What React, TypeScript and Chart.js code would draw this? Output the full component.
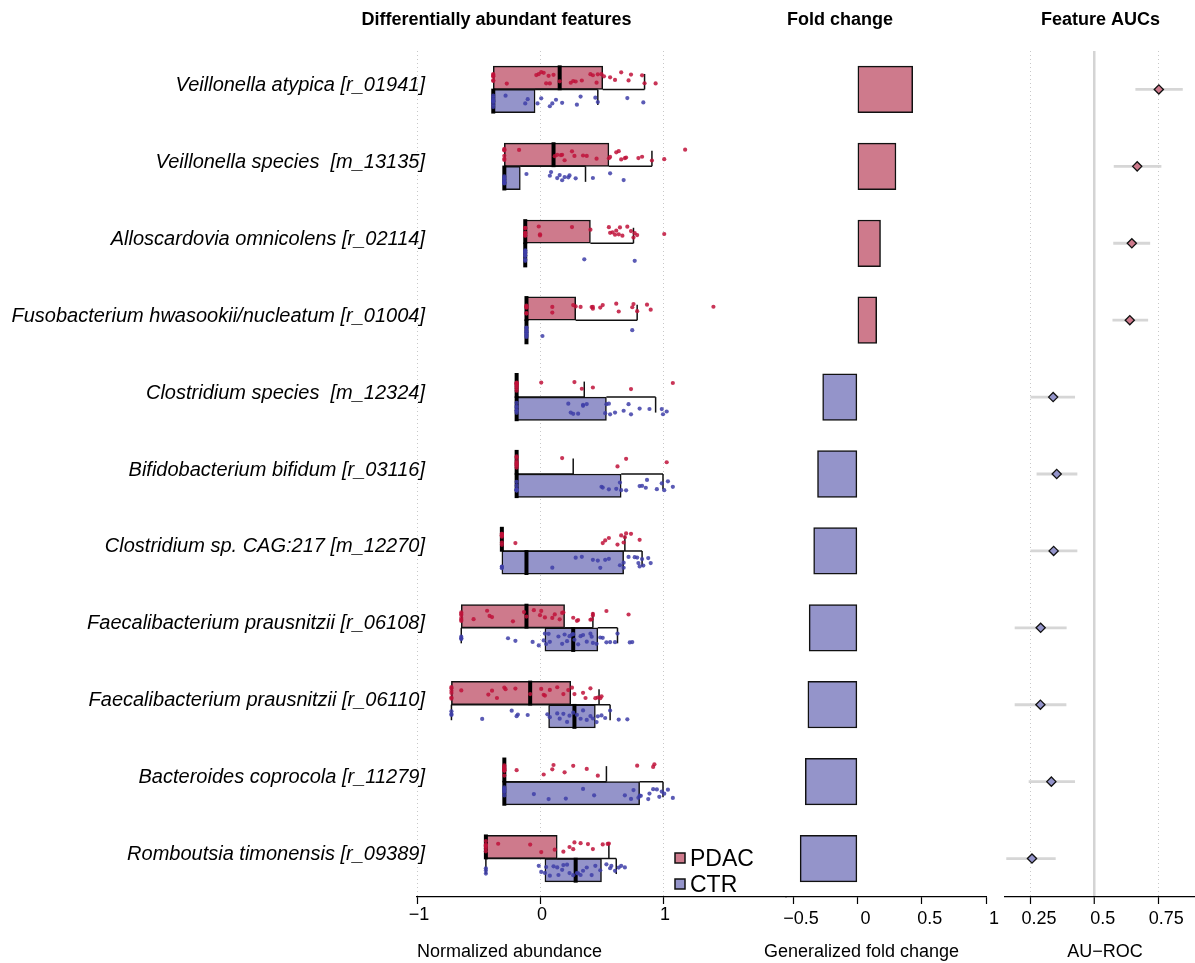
import React, { useEffect, useRef } from 'react';
import { Chart, registerables } from 'chart.js';

Chart.register(...registerables);

// ---------------- data ----------------
const features = [
  'Veillonella atypica [r_01941]',
  'Veillonella species  [m_13135]',
  'Alloscardovia omnicolens [r_02114]',
  'Fusobacterium hwasookii/nucleatum [r_01004]',
  'Clostridium species  [m_12324]',
  'Bifidobacterium bifidum [r_03116]',
  'Clostridium sp. CAG:217 [m_12270]',
  'Faecalibacterium prausnitzii [r_06108]',
  'Faecalibacterium prausnitzii [r_06110]',
  'Bacteroides coprocola [r_11279]',
  'Romboutsia timonensis [r_09389]',
];

const groupNames = ['PDAC', 'CTR'];

const pdacLow = [-0.38, -0.29, -0.12, -0.11, -0.19, -0.19, -0.31, -0.64, -0.72, -0.29, -0.44];
const pdacQ1 = [-0.38, -0.29, -0.12, -0.11, -0.19, -0.19, -0.31, -0.64, -0.72, -0.29, -0.44];
const pdacMed = [0.16, 0.11, -0.12, -0.11, -0.19, -0.19, -0.31, -0.11, -0.08, -0.29, -0.44];
const pdacQ3 = [0.51, 0.56, 0.41, 0.29, -0.19, -0.19, -0.31, 0.2, 0.25, -0.29, 0.14];
const pdacHigh = [0.85, 0.91, 0.76, 0.79, 0.36, 0.27, 0.69, 0.43, 0.48, 0.54, 0.56];

const ctrLow = [-0.38, -0.29, -0.12, -0.11, -0.19, -0.19, -0.31, -0.64, -0.72, -0.29, -0.44];
const ctrQ1 = [-0.38, -0.29, -0.12, -0.11, -0.19, -0.19, -0.31, 0.04, 0.07, -0.29, 0.04];
const ctrMed = [-0.38, -0.29, -0.12, -0.11, -0.19, -0.19, -0.11, 0.27, 0.28, -0.29, 0.29];
const ctrQ3 = [-0.04, -0.16, -0.12, -0.11, 0.54, 0.66, 0.68, 0.47, 0.45, 0.81, 0.5];
const ctrHigh = [0.47, 0.37, -0.12, -0.11, 0.94, 1.0, 0.83, 0.63, 0.57, 1.0, 0.62];

const pdacPoints: number[][] = [
  [-0.38, -0.38, -0.38, -0.38, -0.38, -0.38, -0.27, -0.03, -0.01, 0.01, 0.03, 0.05, 0.07, 0.08, 0.11, 0.16, 0.25, 0.27, 0.29, 0.34, 0.41, 0.43, 0.46, 0.47, 0.5, 0.52, 0.57, 0.61, 0.66, 0.72, 0.74, 0.83, 0.85, 0.94],
  [-0.29, -0.29, -0.29, -0.29, -0.29, -0.29, -0.17, 0.12, 0.14, 0.17, 0.18, 0.2, 0.26, 0.28, 0.35, 0.38, 0.46, 0.56, 0.57, 0.62, 0.64, 0.66, 0.69, 0.7, 0.8, 0.83, 0.91, 1.01, 1.18],
  [-0.12, -0.12, -0.12, -0.12, -0.12, -0.12, -0.01, 0.0, 0.0, 0.26, 0.41, 0.56, 0.57, 0.59, 0.61, 0.62, 0.64, 0.65, 0.67, 0.71, 0.74, 0.76, 0.77, 0.79, 1.01],
  [-0.11, -0.11, -0.11, -0.11, -0.11, -0.11, 0.1, 0.1, 0.27, 0.29, 0.33, 0.42, 0.43, 0.43, 0.49, 0.51, 0.62, 0.64, 0.75, 0.76, 0.79, 0.87, 0.9, 1.41],
  [-0.19, -0.19, -0.19, -0.19, -0.19, -0.19, -0.19, -0.19, 0.01, 0.28, 0.34, 0.43, 0.74, 1.08],
  [-0.19, -0.19, -0.19, -0.19, -0.19, -0.19, -0.19, -0.19, 0.18, 0.63, 0.7, 1.03],
  [-0.31, -0.31, -0.31, -0.31, -0.31, -0.31, -0.31, -0.31, -0.2, 0.51, 0.53, 0.56, 0.63, 0.66, 0.68, 0.69, 0.7, 0.74, 0.81],
  [-0.64, -0.64, -0.64, -0.64, -0.64, -0.64, -0.54, -0.43, -0.41, -0.39, -0.22, -0.13, -0.11, -0.05, 0.0, 0.01, 0.04, 0.1, 0.12, 0.16, 0.18, 0.19, 0.27, 0.3, 0.31, 0.41, 0.42, 0.43, 0.43, 0.54, 0.72],
  [-0.72, -0.72, -0.72, -0.72, -0.72, -0.72, -0.64, -0.42, -0.39, -0.35, -0.29, -0.28, -0.2, -0.08, 0.01, 0.03, 0.04, 0.08, 0.14, 0.19, 0.23, 0.26, 0.28, 0.35, 0.37, 0.41, 0.45, 0.47, 0.49, 0.5],
  [-0.29, -0.29, -0.29, -0.29, -0.29, -0.29, -0.29, -0.29, -0.19, 0.03, 0.1, 0.11, 0.2, 0.27, 0.38, 0.47, 0.79, 0.92, 0.93],
  [-0.44, -0.44, -0.44, -0.44, -0.44, -0.44, -0.34, -0.08, 0.01, 0.12, 0.19, 0.24, 0.27, 0.28, 0.33, 0.39, 0.43, 0.51, 0.55, 0.56],
];

const ctrPoints: number[][] = [
  [-0.38, -0.38, -0.38, -0.38, -0.38, -0.38, -0.38, -0.38, -0.28, -0.12, -0.1, -0.02, 0.01, 0.08, 0.1, 0.13, 0.18, 0.3, 0.33, 0.45, 0.47, 0.71, 0.84],
  [-0.29, -0.29, -0.29, -0.29, -0.29, -0.29, -0.29, -0.29, -0.11, 0.08, 0.09, 0.14, 0.16, 0.18, 0.2, 0.23, 0.24, 0.29, 0.43, 0.57, 0.68],
  [-0.12, -0.12, -0.12, -0.12, -0.12, -0.12, -0.12, -0.12, 0.36, 0.77],
  [-0.11, -0.11, -0.11, -0.11, -0.11, -0.11, -0.11, -0.11, 0.02, 0.75],
  [-0.19, -0.19, -0.19, -0.19, -0.19, -0.19, 0.23, 0.25, 0.27, 0.31, 0.35, 0.35, 0.38, 0.53, 0.54, 0.56, 0.57, 0.61, 0.68, 0.72, 0.74, 0.81, 0.89, 0.99, 1.0, 1.03],
  [-0.19, -0.19, -0.19, -0.19, -0.19, -0.19, 0.5, 0.51, 0.56, 0.62, 0.65, 0.66, 0.7, 0.81, 0.83, 0.86, 0.87, 0.95, 0.99, 1.01, 1.04, 1.08],
  [-0.31, -0.31, -0.31, 0.1, 0.29, 0.34, 0.43, 0.47, 0.49, 0.53, 0.56, 0.65, 0.68, 0.68, 0.72, 0.77, 0.79, 0.8, 0.81, 0.83, 0.84, 0.88, 0.9],
  [-0.64, -0.64, -0.64, -0.26, -0.2, -0.06, -0.01, 0.03, 0.04, 0.05, 0.07, 0.08, 0.15, 0.18, 0.2, 0.22, 0.24, 0.26, 0.27, 0.28, 0.31, 0.33, 0.35, 0.38, 0.41, 0.42, 0.43, 0.46, 0.49, 0.51, 0.54, 0.57, 0.61, 0.63, 0.73, 0.75],
  [-0.72, -0.72, -0.72, -0.47, -0.23, -0.19, -0.18, -0.1, 0.06, 0.08, 0.14, 0.16, 0.19, 0.22, 0.24, 0.27, 0.3, 0.33, 0.35, 0.38, 0.41, 0.43, 0.46, 0.47, 0.5, 0.53, 0.57, 0.64, 0.71],
  [-0.29, -0.29, -0.29, -0.29, -0.29, -0.29, -0.05, 0.07, 0.21, 0.35, 0.44, 0.69, 0.74, 0.76, 0.8, 0.81, 0.82, 0.88, 0.89, 0.92, 0.95, 0.97, 0.99, 1.01, 1.04, 1.08],
  [-0.44, -0.44, -0.44, -0.01, 0.01, 0.04, 0.05, 0.08, 0.11, 0.14, 0.15, 0.18, 0.19, 0.22, 0.24, 0.27, 0.3, 0.31, 0.33, 0.35, 0.38, 0.42, 0.45, 0.49, 0.54, 0.57, 0.58, 0.61, 0.64, 0.66, 0.69],
];

const foldChange = [0.43, 0.3, 0.18, 0.15, -0.27, -0.31, -0.34, -0.375, -0.385, -0.405, -0.445];

const aucValue = [0.752, 0.667, 0.646, 0.638, 0.337, 0.351, 0.339, 0.288, 0.287, 0.33, 0.254];
const aucLow = [0.66, 0.575, 0.573, 0.57, 0.248, 0.272, 0.248, 0.186, 0.186, 0.241, 0.153];
const aucHigh = [0.846, 0.762, 0.718, 0.71, 0.423, 0.432, 0.432, 0.39, 0.389, 0.423, 0.347];

const abundanceTicks = [-1, 0, 1];
const foldTicks = [-0.5, 0, 0.5, 1];
const aucTicks = [0.25, 0.5, 0.75];
const aucReference = 0.5;

const panelTitles = ['Differentially abundant features', 'Fold change', 'Feature AUCs'];
const axisTitles = ['Normalized abundance', 'Generalized fold change', 'AU\u2212ROC'];

// ---------------- layout / style ----------------
const W = 1195;
const H = 963;
const TOP = 51;
const AXIS_H = 66;
const ROW_PX = (H - AXIS_H - TOP) / features.length;
const HALF_BOX_PX = 23.3;
const HALF = HALF_BOX_PX / 2 / ROW_PX;
const TICK_PX = 7.75;
const TICK_OFF = TICK_PX / ROW_PX;
const JIT = 6 / ROW_PX;

const FONT = '"Liberation Sans", Arial, Helvetica, sans-serif';
const RED_FILL = '#CE7A8C';
const BLUE_FILL = '#9494CA';
const RED_PT = 'rgba(192,18,58,0.85)';
const BLUE_PT = 'rgba(62,62,168,0.85)';
const EDGE = '#111111';

Chart.defaults.font.family = FONT;

const fmt = (v: number) => (v < 0 ? '\u2212' + String(Math.abs(v)) : String(v));

function jitter(k: number) {
  const s = Math.sin(k * 12.9898 + 78.233) * 43758.5453;
  return s - Math.floor(s) - 0.5;
}

function xScale(min: number, max: number, tickValues: number[], grid: any, dash: any, labelOffset: number, padding: number) {
  return {
    type: 'linear',
    min,
    max,
    offset: false,
    afterBuildTicks: (s: any) => {
      s.ticks = tickValues.map((v) => ({ value: v }));
    },
    afterFit: (s: any) => {
      s.height = AXIS_H;
    },
    grid: {
      display: true,
      offset: false,
      drawTicks: true,
      tickLength: 7,
      tickColor: '#000',
      tickWidth: 1.2,
      tickBorderDash: [],
      ...grid,
    },
    border: { display: true, color: '#000', width: 1.2, dash },
    ticks: {
      color: '#000',
      font: { family: FONT, size: 18 },
      padding,
      labelOffset,
      maxRotation: 0,
      autoSkip: false,
      callback: (v: any) => fmt(Number(v)),
    },
  };
}

const yScale = {
  type: 'linear',
  min: 0.5,
  max: features.length + 0.5,
  reverse: true,
  display: false,
  offset: false,
  grid: { offset: false },
};

function baseOptions(left: number, right: number, x: any) {
  return {
    responsive: false,
    animation: false,
    devicePixelRatio: 1,
    events: [],
    layout: { autoPadding: false, padding: { left, right: W - right, top: TOP, bottom: 0 } },
    plugins: { legend: { display: false }, tooltip: { enabled: false }, title: { display: false } },
    scales: { x, y: yScale },
  };
}

function segments(list: [number, number, number][]) {
  const out: any[] = [];
  list.forEach(([a, b, y]) => {
    out.push({ x: a, y }, { x: b, y }, { x: b, y: null });
  });
  return out;
}

function textPlugin(id: string, draw: (chart: any, ctx: CanvasRenderingContext2D) => void) {
  return {
    id,
    afterDraw(chart: any) {
      const ctx = chart.ctx;
      ctx.save();
      draw(chart, ctx);
      ctx.restore();
    },
  };
}

function drawTitle(ctx: CanvasRenderingContext2D, text: string, cx: number) {
  ctx.fillStyle = '#000';
  ctx.font = `bold 18px ${FONT}`;
  ctx.textAlign = 'center';
  ctx.textBaseline = 'alphabetic';
  ctx.fillText(text, cx, 25);
}

function drawAxisTitle(ctx: CanvasRenderingContext2D, text: string, x: number, align: CanvasTextAlign) {
  ctx.fillStyle = '#000';
  ctx.font = `18px ${FONT}`;
  ctx.textAlign = align;
  ctx.textBaseline = 'alphabetic';
  ctx.fillText(text, x, 957);
}

// ---------------- chart builders ----------------
function buildAbundance(canvas: HTMLCanvasElement) {
  const groups = [
    { name: groupNames[0], sign: -1, low: pdacLow, q1: pdacQ1, med: pdacMed, q3: pdacQ3, high: pdacHigh, pts: pdacPoints, fill: RED_FILL, pt: RED_PT },
    { name: groupNames[1], sign: 1, low: ctrLow, q1: ctrQ1, med: ctrMed, q3: ctrQ3, high: ctrHigh, pts: ctrPoints, fill: BLUE_FILL, pt: BLUE_PT },
  ];

  const datasets: any[] = [];

  groups.forEach((g) => {
    datasets.push({
      type: 'bar',
      indexAxis: 'y',
      label: g.name,
      data: features.map((_, i) => ({ x: g.q3[i] > g.q1[i] ? [g.q1[i], g.q3[i]] : null, y: i + 1 })),
      backgroundColor: g.fill,
      borderColor: EDGE,
      borderWidth: 1.5,
      borderSkipped: false,
      barThickness: HALF_BOX_PX,
      grouped: true,
      order: 6,
    });
  });

  const whiskerSegs: [number, number, number][] = [];
  const whiskerTicks: any[] = [];
  const medians: any[] = [];
  groups.forEach((g) => {
    features.forEach((_, i) => {
      const r = i + 1;
      if (g.high[i] > g.q3[i]) {
        whiskerSegs.push([g.q3[i], g.high[i], r]);
        whiskerTicks.push({ x: g.high[i], y: r + g.sign * TICK_OFF });
      }
      if (g.low[i] < g.q1[i]) {
        whiskerSegs.push([g.low[i], g.q1[i], r]);
        whiskerTicks.push({ x: g.low[i], y: r + g.sign * TICK_OFF });
      }
      medians.push({ x: g.med[i], y: r + g.sign * HALF });
    });
  });

  datasets.push({
    type: 'line',
    data: segments(whiskerSegs),
    borderColor: EDGE,
    borderWidth: 1.5,
    pointRadius: 0,
    fill: false,
    tension: 0,
    spanGaps: false,
    order: 5,
  });
  datasets.push({
    type: 'scatter',
    data: whiskerTicks,
    pointStyle: 'line',
    rotation: 90,
    pointRadius: TICK_PX,
    borderColor: EDGE,
    borderWidth: 1.5,
    order: 4,
  });
  datasets.push({
    type: 'scatter',
    data: medians,
    pointStyle: 'line',
    rotation: 90,
    pointRadius: HALF_BOX_PX / 2 + 0.8,
    borderColor: '#000',
    borderWidth: 4,
    order: 3,
  });
  groups.forEach((g, gi) => {
    datasets.push({
      type: 'scatter',
      data: g.pts.flatMap((arr, i) =>
        arr.map((v, k) => ({ x: v, y: i + 1 + g.sign * HALF + jitter(i * 97 + k * 13 + gi * 5003) * 2 * JIT }))
      ),
      pointRadius: 2.1,
      backgroundColor: g.pt,
      borderWidth: 0,
      order: 1 + gi,
    });
  });

  const x = xScale(
    -1,
    2,
    abundanceTicks,
    { drawOnChartArea: true, color: 'rgb(200,200,200)', lineWidth: 1 },
    [1, 3],
    2,
    0
  );

  const plugin = textPlugin('abundText', (chart, ctx) => {
    const ys = chart.scales.y;
    const area = chart.chartArea;
    ctx.fillStyle = '#000';
    ctx.font = `italic 20px ${FONT}`;
    ctx.textAlign = 'right';
    ctx.textBaseline = 'middle';
    features.forEach((f, i) => {
      ctx.fillText(f, area.left + 8, ys.getPixelForValue(i + 1) - 4);
    });
    drawTitle(ctx, panelTitles[0], 496.5);
    drawAxisTitle(ctx, axisTitles[0], area.left, 'left');
    // legend
    const lx = 675;
    const ly = [853, 879];
    groups.forEach((g, gi) => {
      ctx.fillStyle = g.fill;
      ctx.fillRect(lx, ly[gi], 10, 10);
      ctx.strokeStyle = EDGE;
      ctx.lineWidth = 1.5;
      ctx.strokeRect(lx, ly[gi], 10, 10);
      ctx.fillStyle = '#000';
      ctx.font = `23px ${FONT}`;
      ctx.textAlign = 'left';
      ctx.textBaseline = 'alphabetic';
      ctx.fillText(g.name, lx + 15, ly[gi] + 12.5);
    });
  });

  return new Chart(canvas, {
    type: 'scatter',
    data: { datasets },
    options: baseOptions(417, 786, x) as any,
    plugins: [plugin],
  } as any);
}

function buildFold(canvas: HTMLCanvasElement) {
  const x = xScale(-0.555, 1.0, foldTicks, { drawOnChartArea: false, color: '#000' }, [], 8, 4);
  const plugin = textPlugin('foldText', (chart, ctx) => {
    drawTitle(ctx, panelTitles[1], 840);
    drawAxisTitle(ctx, axisTitles[1], 861.5, 'center');
  });
  return new Chart(canvas, {
    type: 'scatter',
    data: {
      datasets: [
        {
          type: 'bar',
          indexAxis: 'y',
          data: foldChange.map((v, i) => ({ x: v, y: i + 1 })),
          backgroundColor: foldChange.map((v) => (v > 0 ? RED_FILL : BLUE_FILL)),
          borderColor: EDGE,
          borderWidth: 1.5,
          borderSkipped: false,
          barThickness: HALF_BOX_PX * 2,
        },
      ],
    },
    options: baseOptions(786, 986, x) as any,
    plugins: [plugin],
  } as any);
}

function buildAuc(canvas: HTMLCanvasElement) {
  const isRef = (c: any) => c && c.tick && Math.abs(c.tick.value - aucReference) < 1e-9;
  const x = xScale(
    0.148,
    0.894,
    aucTicks,
    {
      drawOnChartArea: true,
      color: (c: any) => (isRef(c) ? 'rgb(212,212,212)' : 'rgb(200,200,200)'),
      lineWidth: (c: any) => (isRef(c) ? 2.5 : 1),
    },
    (c: any) => (isRef(c) ? [] : [1, 3]),
    8,
    4
  );
  const plugin = textPlugin('aucText', (chart, ctx) => {
    drawTitle(ctx, panelTitles[2], 1100.5);
    drawAxisTitle(ctx, axisTitles[2], 1105, 'center');
  });
  return new Chart(canvas, {
    type: 'scatter',
    data: {
      datasets: [
        {
          type: 'line',
          data: segments(features.map((_, i) => [aucLow[i], aucHigh[i], i + 1] as [number, number, number])),
          borderColor: 'rgb(214,214,214)',
          borderWidth: 2.8,
          pointRadius: 0,
          fill: false,
          tension: 0,
          spanGaps: false,
          order: 2,
        },
        {
          type: 'scatter',
          data: aucValue.map((v, i) => ({ x: v, y: i + 1 })),
          pointStyle: 'rectRot',
          pointRadius: 4.6,
          backgroundColor: aucValue.map((v) => (v > aucReference ? RED_FILL : BLUE_FILL)),
          borderColor: EDGE,
          borderWidth: 1.3,
          order: 1,
        },
      ],
    },
    options: baseOptions(1005, W, x) as any,
    plugins: [plugin],
  } as any);
}

export default function App() {
  const r1 = useRef<HTMLCanvasElement>(null);
  const r2 = useRef<HTMLCanvasElement>(null);
  const r3 = useRef<HTMLCanvasElement>(null);

  useEffect(() => {
    const charts: Chart[] = [];
    if (r1.current) charts.push(buildAbundance(r1.current));
    if (r2.current) charts.push(buildFold(r2.current));
    if (r3.current) charts.push(buildAuc(r3.current));
    return () => {
      charts.forEach((c) => c.destroy());
    };
  }, []);

  const style: React.CSSProperties = { position: 'absolute', left: 0, top: 0, width: W, height: H };
  return (
    <div style={{ position: 'fixed', left: 0, top: 0, width: W, height: H, background: '#fff', overflow: 'hidden' }}>
      <canvas ref={r1} width={W} height={H} style={style} />
      <canvas ref={r2} width={W} height={H} style={style} />
      <canvas ref={r3} width={W} height={H} style={style} />
    </div>
  );
}
